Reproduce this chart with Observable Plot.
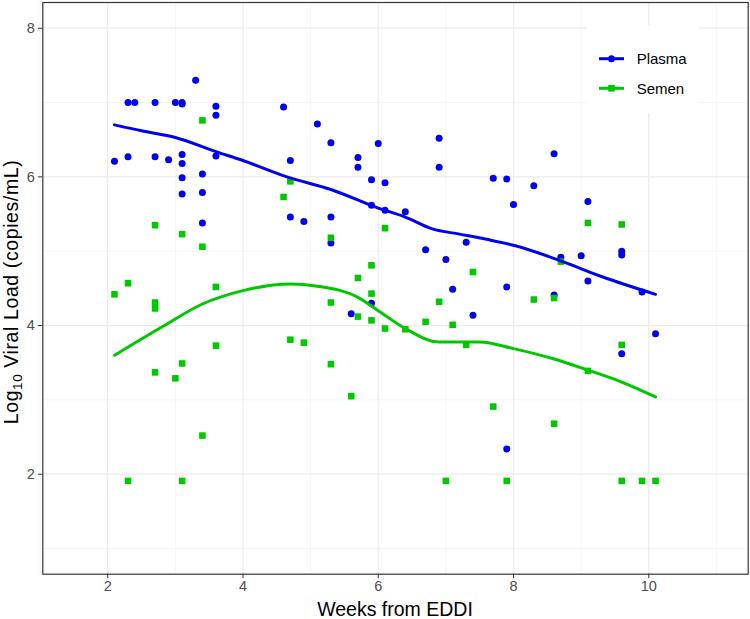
<!DOCTYPE html>
<html><head><meta charset="utf-8">
<script src="https://cdn.jsdelivr.net/npm/d3@7"></script>
<script src="https://cdn.jsdelivr.net/npm/@observablehq/plot@0.6"></script>
<style>body{margin:0;background:#fff} svg{display:block}</style>
</head><body><div id="chart"></div>
<script>
// ---- Data ----
const plasmaWeeks = [2.1,2.3,2.4,2.3,2.7,2.7,2.9,3.0,3.1,3.1,3.1,3.1,3.1,3.1,3.3,3.4,3.4,3.4,3.6,3.6,3.6,4.6,4.7,4.7,4.9,5.1,5.3,5.3,5.3,5.6,5.7,5.7,5.9,5.9,5.9,6.0,6.1,6.1,6.4,6.7,6.9,6.9,7.0,7.1,7.3,7.4,7.7,7.9,7.9,7.9,8.0,8.3,8.6,8.6,8.7,9.0,9.1,9.1,9.6,9.6,9.6,9.9,10.1];
const plasmaLoad  = [6.21,7.00,7.00,6.27,7.00,6.27,6.23,7.00,7.00,6.98,6.30,6.18,5.99,5.77,7.30,6.04,5.79,5.38,6.95,6.83,6.28,6.94,6.22,5.46,5.40,6.71,6.46,5.46,5.11,4.16,6.26,6.13,5.96,5.62,4.30,6.45,5.92,5.55,5.53,5.02,6.52,6.13,4.89,4.49,5.12,4.14,5.98,5.97,4.52,2.34,5.63,5.88,6.31,4.41,4.92,4.94,5.67,4.60,5.00,4.95,3.62,4.45,3.89];
const semenWeeks  = [2.1,2.3,2.3,2.7,2.7,2.7,2.7,3.0,3.1,3.1,3.1,3.4,3.4,3.4,3.6,3.6,4.6,4.7,4.7,4.9,5.3,5.3,5.3,5.6,5.7,5.7,5.9,5.9,5.9,6.1,6.1,6.4,6.7,6.9,7.0,7.1,7.3,7.4,7.7,7.9,8.3,8.6,8.6,8.7,9.1,9.1,9.6,9.6,9.6,9.9,10.1];
const semenLoad   = [4.42,4.57,1.91,5.35,4.31,4.23,3.37,3.29,5.23,3.49,1.91,6.76,5.06,2.52,4.52,3.73,5.73,5.94,3.81,3.77,5.18,4.31,3.48,3.05,4.64,4.12,4.81,4.43,4.07,5.31,3.96,3.95,4.05,4.32,1.91,4.01,3.74,4.72,2.91,1.91,4.35,4.37,2.68,4.86,5.38,3.39,5.36,3.74,1.91,1.91,1.91];
// smoothed (loess) curves as drawn
const plasmaFitWeeks = [2.1,2.5,3.0,3.6,4.0,4.65,5.3,6.0,6.4,6.8,7.2,7.6,8.0,8.7,9.3,10.1];
const plasmaFit      = [6.70,6.62,6.53,6.34,6.22,6.00,5.83,5.58,5.46,5.30,5.23,5.16,5.08,4.87,4.66,4.42];
const semenFitWeeks  = [2.1,2.8,3.4,4.0,4.7,5.1,5.7,6.0,6.4,6.9,7.5,8.0,8.6,9.1,9.6,10.1];
const semenFit       = [3.60,3.98,4.29,4.47,4.56,4.53,4.38,4.20,3.96,3.78,3.78,3.69,3.55,3.40,3.24,3.04];
const xTicks = [2,4,6,8,10];
const yTicks = [2,4,6,8];
const xMinor = [1,3,5,7,9,11];
const yMinor = [1,3,5,7];
const seriesNames = ["Plasma","Semen"];
const xLabel = "Weeks from EDDI";

const BLUE = "#0000ee", GREEN = "#00c800";
const plasma = plasmaWeeks.map((x,i)=>({x, y:plasmaLoad[i]}));
const semen  = semenWeeks.map((x,i)=>({x, y:semenLoad[i]}));
const pFit = plasmaFitWeeks.map((x,i)=>({x, y:plasmaFit[i]}));
const sFit = semenFitWeeks.map((x,i)=>({x, y:semenFit[i]}));

const W=750, H=619, mL=42.3, mR=2.3, mT=2, mB=45.3;
const FONT = "Liberation Sans, Arial, sans-serif";

const plot = Plot.plot({
  width:W, height:H, marginLeft:mL, marginRight:mR, marginTop:mT, marginBottom:mB,
  style:{fontFamily:FONT, background:"#fff", color:"#4d4d4d", overflow:"visible"},
  x:{domain:[1.04,11.47]},
  y:{domain:[0.655,8.346]},
  marks:[
    Plot.gridX(xMinor,{stroke:"#f2f2f2", strokeOpacity:1, strokeWidth:0.8}),
    Plot.gridY(yMinor,{stroke:"#f2f2f2", strokeOpacity:1, strokeWidth:0.8}),
    Plot.gridX(xTicks,{stroke:"#ebebeb", strokeOpacity:1, strokeWidth:1.2}),
    Plot.gridY(yTicks,{stroke:"#ebebeb", strokeOpacity:1, strokeWidth:1.2}),
    Plot.dot(plasma,{x:"x", y:"y", r:3.5, fill:BLUE, stroke:null}),
    Plot.dot(semen,{x:"x", y:"y", r:3.7, symbol:"square", fill:GREEN, stroke:null}),
    Plot.line(pFit,{x:"x", y:"y", stroke:BLUE, strokeWidth:3, curve:"monotone-x"}),
    Plot.line(sFit,{x:"x", y:"y", stroke:GREEN, strokeWidth:3, curve:"monotone-x"}),
    Plot.frame({stroke:"#333333", strokeWidth:1.2}),
    Plot.axisX(xTicks,{tickSize:4.5, tickPadding:2.5, fontSize:14.5, label:null, tickFormat:d=>String(d)}),
    Plot.axisY(yTicks,{tickSize:4.5, tickPadding:3.5, fontSize:14.5, label:null, tickFormat:d=>String(d)})
  ]
});
document.getElementById("chart").appendChild(plot);

const svg = d3.select(plot);
svg.selectAll('g[aria-label="x-axis tick"] path, g[aria-label="y-axis tick"] path').attr("stroke","#333333");
svg.selectAll('g[aria-label="x-axis tick label"], g[aria-label="y-axis tick label"]').attr("fill","#4d4d4d");

// axis titles
svg.append("text").attr("x",(mL+W-mR)/2).attr("y",616).attr("text-anchor","middle")
  .attr("font-family",FONT).attr("font-size",19.5).attr("fill","#000").text(xLabel);
const yt = svg.append("text").attr("transform",`translate(17.5,292) rotate(-90)`)
  .attr("text-anchor","middle").attr("font-family",FONT).attr("font-size",19.5)
  .attr("letter-spacing","0.6px").attr("fill","#000");
yt.append("tspan").text("Log");
yt.append("tspan").attr("font-size",13.5).attr("dy",4).text("10");
yt.append("tspan").attr("dy",-4).text(" Viral Load (copies/mL)");

// legend
const lg = svg.append("g").attr("text-anchor","start");
lg.append("rect").attr("x",586.7).attr("y",25).attr("width",111.6).attr("height",88).attr("fill","#fff");
const keys = [{name:seriesNames[0], c:BLUE, y:58.7, sq:false},{name:seriesNames[1], c:GREEN, y:88.3, sq:true}];
keys.forEach(k=>{
  lg.append("line").attr("x1",599).attr("x2",624).attr("y1",k.y).attr("y2",k.y).attr("stroke",k.c).attr("stroke-width",3);
  if (k.sq) lg.append("rect").attr("x",611.5-3.3).attr("y",k.y-3.3).attr("width",6.6).attr("height",6.6).attr("fill",k.c);
  else lg.append("circle").attr("cx",611.5).attr("cy",k.y).attr("r",3.5).attr("fill",k.c);
  lg.append("text").attr("x",636.7).attr("y",k.y).attr("dy","0.36em").attr("text-anchor","start")
    .attr("font-family",FONT).attr("font-size",15).attr("fill","#000").text(k.name);
});
</script></body></html>
